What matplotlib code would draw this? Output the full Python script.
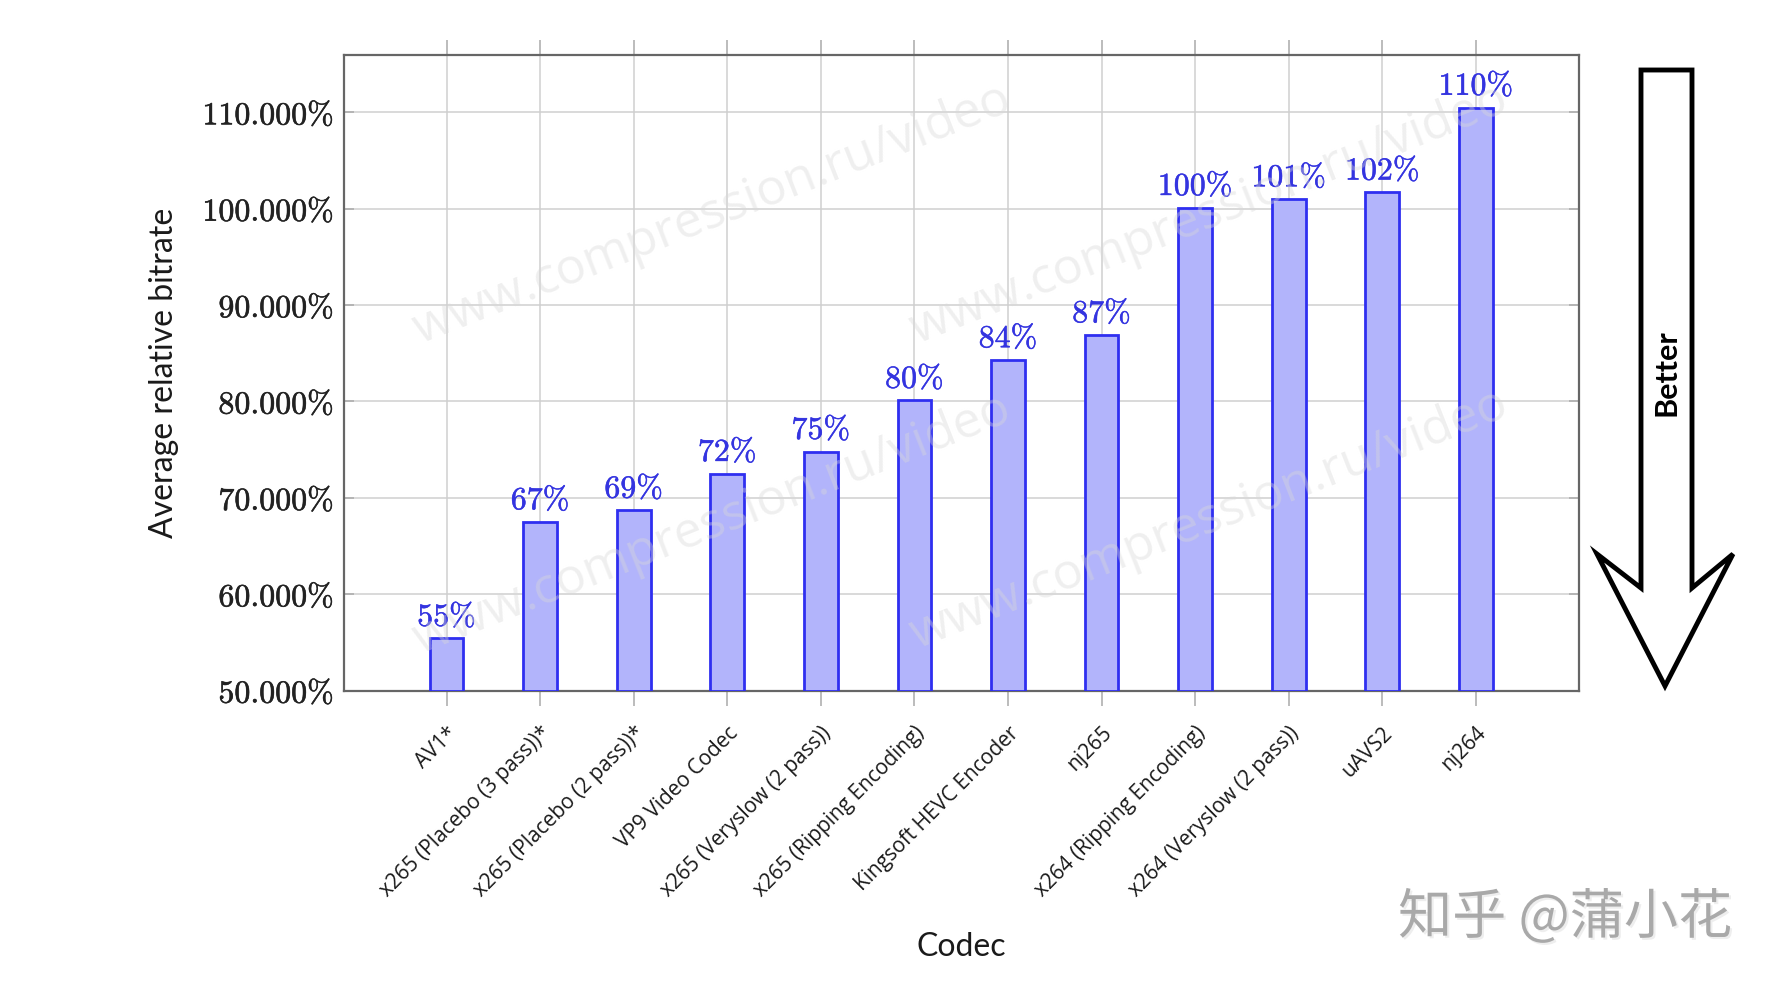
import matplotlib
matplotlib.use("Agg")
import matplotlib.pyplot as plt
from matplotlib.patches import Polygon
from matplotlib.ticker import FixedLocator, FuncFormatter
import matplotlib.patheffects as pe

plt.rcParams['mathtext.fontset'] = 'cm'

codecs = ["AV1*", "x265 (Placebo (3 pass))*", "x265 (Placebo (2 pass))*",
          "VP9 Video Codec", "x265 (Veryslow (2 pass))", "x265 (Ripping Encoding)",
          "Kingsoft HEVC Encoder", "nj265", "x264 (Ripping Encoding)",
          "x264 (Veryslow (2 pass))", "uAVS2", "nj264"]
values = [55.4, 67.5, 68.7, 72.5, 74.8, 80.1, 84.3, 86.9, 100.1, 101.0, 101.7, 110.5]
value_labels = ["55%", "67%", "69%", "72%", "75%", "80%", "84%", "87%",
                "100%", "101%", "102%", "110%"]
yticks = [50, 60, 70, 80, 90, 100, 110]
watermark = "www.compression.ru/video"

W, H = 1772, 984
fig = plt.figure(figsize=(W / 100, H / 100), dpi=100)
ax = fig.add_axes([343.6 / W, 1 - 690.5 / H, (1578.8 - 343.6) / W, (690.5 - 54.5) / H])

x = list(range(len(codecs)))
blue_edge = "#2f2ff0"
ax.bar(x, [v - 50 for v in values], bottom=50, width=0.36,
       color="#b2b4fb", edgecolor=blue_edge, linewidth=2, zorder=3)
thick_blue = [pe.withStroke(linewidth=0.35, foreground="#3434e0")]
for xi, v, lab in zip(x, values, value_labels):
    ax.text(xi, v + 0.6, r"$\mathrm{" + lab.replace("%", r"\%") + "}$",
            ha="center", va="bottom", color="#3434e0", fontsize=23, zorder=4,
            path_effects=thick_blue)

ax.set_xlim(-1.1, len(codecs) - 1 + 1.1)
ax.set_ylim(50, 116)
ax.yaxis.set_major_locator(FixedLocator(yticks))
ax.yaxis.set_major_formatter(FuncFormatter(lambda v, p: r"$\mathrm{%.3f\%%}$" % v))
ax.set_xticks(x)
ax.set_xticklabels(codecs, rotation=45, ha="right", va="top",
                   rotation_mode="anchor", fontsize=15, family="Open Sans",
                   color="#1a1a1a")
thick_dark = [pe.withStroke(linewidth=0.4, foreground="#222222")]
for t in ax.get_yticklabels():
    t.set_fontsize(23)
    t.set_color("#222222")
    t.set_path_effects(thick_dark)

ax.grid(True, color="#cfcfcf", linewidth=1.1, zorder=0)
ax.set_axisbelow(True)
for s in ax.spines.values():
    s.set_color("#666666")
    s.set_linewidth(1.6)
ax.tick_params(axis="x", direction="out", top=True, length=11, width=1.1,
               color="#aaaaaa", pad=12)
ax.tick_params(axis="y", direction="in", right=True, length=7, width=1.1,
               color="#aaaaaa", pad=7)

ax.set_ylabel("Average relative bitrate", family="Lato", fontsize=23,
              color="#1a1a1a")
ax.yaxis.set_label_coords(-(343.6 - 179) / (1578.8 - 343.6), 0.5)
ax.set_xlabel("Codec", family="Lato", fontsize=23, color="#1a1a1a")
ax.xaxis.set_label_coords(0.5, -(932 - 690.5) / (690.5 - 54.5))

# watermark text
for cx, cy in [(712, 215), (1209, 215), (712, 525), (1209, 520)]:
    fig.text(cx / W, 1 - cy / H, watermark, rotation=21.5, ha="center", va="center",
             fontsize=36, family="Open Sans", color="#d8d8d8", alpha=0.4, zorder=5)

# Better arrow
pts = [(1641, 70), (1692, 70), (1692, 588), (1733, 554), (1665, 686),
       (1597, 554), (1641, 588)]
arrow = Polygon([(px / W, 1 - py / H) for px, py in pts], closed=True,
                transform=fig.transFigure, facecolor="white", edgecolor="black",
                linewidth=3.5, joinstyle="miter")
fig.add_artist(arrow)
fig.text(1666 / W, 1 - 373 / H, "Better", rotation=90, ha="center", va="center",
         fontsize=22, fontweight="bold", family="Lato", color="black")

# zhihu watermark
fig.text(1565 / W, 1 - 918 / H, "知乎 @蒲小花", ha="center", va="center",
         fontsize=39, family=["Noto Sans CJK SC", "DejaVu Sans"], color="#a9a9a9",
         path_effects=[pe.withSimplePatchShadow(offset=(1.5, -1.5), shadow_rgbFace="#eeeeee", alpha=1)])

fig.savefig("out.png", dpi=100, facecolor="white")
